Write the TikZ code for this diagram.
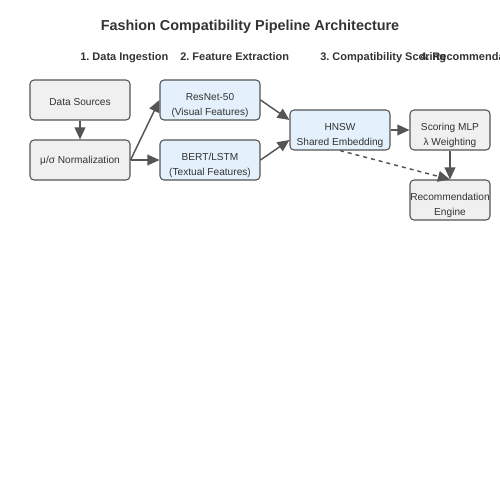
\documentclass[tikz,border=0pt]{standalone}
\usepackage{fontspec}
\setmainfont{Liberation Sans}
\usetikzlibrary{arrows.meta}
\definecolor{grayfill}{HTML}{F0F0F0}
\definecolor{bluefill}{HTML}{E4F1FC}
\definecolor{edge}{HTML}{555555}
\definecolor{txt}{HTML}{333333}
\frenchspacing
\tikzset{
  box/.style={draw=edge, line width=0.8pt, rounded corners=3pt, fill=grayfill, minimum width=75pt, minimum height=30pt, inner sep=0pt},
  sbox/.style={box, minimum width=60pt},
  bbox/.style={box, fill=bluefill},
  lbl/.style={align=center, text=txt, inner sep=0pt, font=\fontsize{7.6}{11.25}\selectfont},
  conn/.style={draw=edge, line width=1.1pt, -{Triangle[length=9pt,width=8pt]}},
  hdr/.style={font=\bfseries\fontsize{8.25}{10}\selectfont, text=txt, inner sep=0pt, anchor=base west},
}
\begin{document}
\begin{tikzpicture}[x=0.75pt,y=-0.75pt]
\useasboundingbox (0,0) rectangle (500,500);
\node[font=\bfseries\fontsize{10.8}{12}\selectfont, text=txt, anchor=base, inner sep=0pt] (title) at (250,30) {Fashion Compatibility Pipeline Architecture};
\node[hdr] (h1) at (80,60) {1. Data Ingestion};
\node[hdr] (h2) at (180,60) {2. Feature Extraction};
\node[hdr] (h3) at (320,60) {3. Compatibility Scoring};
\node[hdr] (h4) at (420,60) {4. Recommendation};
\node[box] (src) at (80,100) {};
\node[box] (norm) at (80,160) {};
\node[bbox] (res) at (210,100) {};
\node[bbox] (bert) at (210,160) {};
\node[bbox] (hnsw) at (340,130) {};
\node[sbox] (mlp) at (450,130) {};
\node[sbox] (rec) at (450,200) {};
\node[lbl] (srcT) at (80,102) {Data Sources};
\node[lbl] (normT) at (80,161) {μ/σ Normalization};
\node[lbl] (resT) at (210,105.5) {ResNet-50\\(Visual Features)};
\node[lbl] (bertT) at (210,165.5) {BERT/LSTM\\(Textual Features)};
\node[lbl] (hnswT) at (340,135.5) {HNSW\\Shared Embedding};
\node[lbl] (mlpT) at (450,135.5) {Scoring MLP\\λ Weighting};
\node[lbl] (recT) at (450,205.5) {Recommendation\\Engine};
\draw[conn] (src.south) -- (norm.north);
\draw[conn] (norm.east) -- (res.west);
\draw[conn] (norm.east) -- (bert.west);
\draw[conn] (res.east) -- ([yshift=7.5pt]hnsw.west);
\draw[conn] (bert.east) -- ([yshift=-7.5pt]hnsw.west);
\draw[conn] (hnsw.east) -- (mlp.west);
\draw[conn] (mlp.south) -- (rec.north);
\draw[conn, dashed] (hnsw.south) -- (rec.north);
\end{tikzpicture}
\end{document}
